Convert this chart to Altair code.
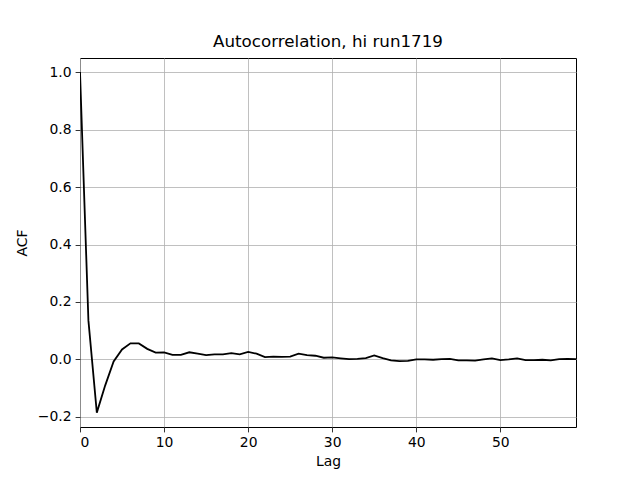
import altair as alt
import pandas as pd

lags = list(range(60))
acf = [1.0, 0.136, -0.185, -0.09, -0.007, 0.035, 0.056, 0.056, 0.037, 0.024,
       0.025, 0.016, 0.016, 0.025, 0.02, 0.015, 0.018, 0.018, 0.022, 0.018,
       0.026, 0.02, 0.008, 0.01, 0.009, 0.01, 0.02, 0.015, 0.013, 0.006,
       0.007, 0.004, 0.001, 0.002, 0.005, 0.014, 0.005, -0.003, -0.006, -0.005,
       0.0, 0.0, -0.001, 0.001, 0.002, -0.003, -0.003, -0.004, 0.0, 0.004,
       -0.002, 0.0, 0.004, -0.002, -0.002, -0.001, -0.003, 0.001, 0.002, 0.001]

df = pd.DataFrame({"Lag": lags, "ACF": acf})

font = "DejaVu Sans"
chart = alt.Chart(df).mark_line(color="black", strokeWidth=1.8, clip=True).encode(
    x=alt.X("Lag:Q", scale=alt.Scale(domain=[0, 59], nice=False, zero=False),
            axis=alt.Axis(values=[0, 10, 20, 30, 40, 50], format="d", title="Lag")),
    y=alt.Y("ACF:Q", scale=alt.Scale(domain=[-0.235, 1.049], nice=False, zero=False),
            axis=alt.Axis(values=[-0.2, 0.0, 0.2, 0.4, 0.6, 0.8, 1.0], format=".1f", title="ACF")),
).properties(
    width=496, height=369,
    title=alt.TitleParams("Autocorrelation, hi run1719", font=font, fontSize=16.7,
                          fontWeight="normal", color="black", offset=7),
    autosize=alt.AutoSizeParams(type="none"),
    padding={"left": 72, "top": 50, "right": 56, "bottom": 45},
).configure_view(
    stroke="black", strokeWidth=1
).configure_axis(
    labelFont=font, labelFontSize=13.9, labelColor="black",
    titleFont=font, titleFontSize=13.9, titleFontWeight="normal", titleColor="black",
    grid=True, gridColor="#b0b0b0", gridWidth=0.8,
    domain=False, tickColor="black", tickSize=4.9, tickWidth=0.8,
    labelPadding=4,
).configure_axisX(
    titlePadding=5
).configure_axisY(
    titlePadding=8
)

chart.save("out.html", embed_options={"renderer": "svg", "actions": False})
